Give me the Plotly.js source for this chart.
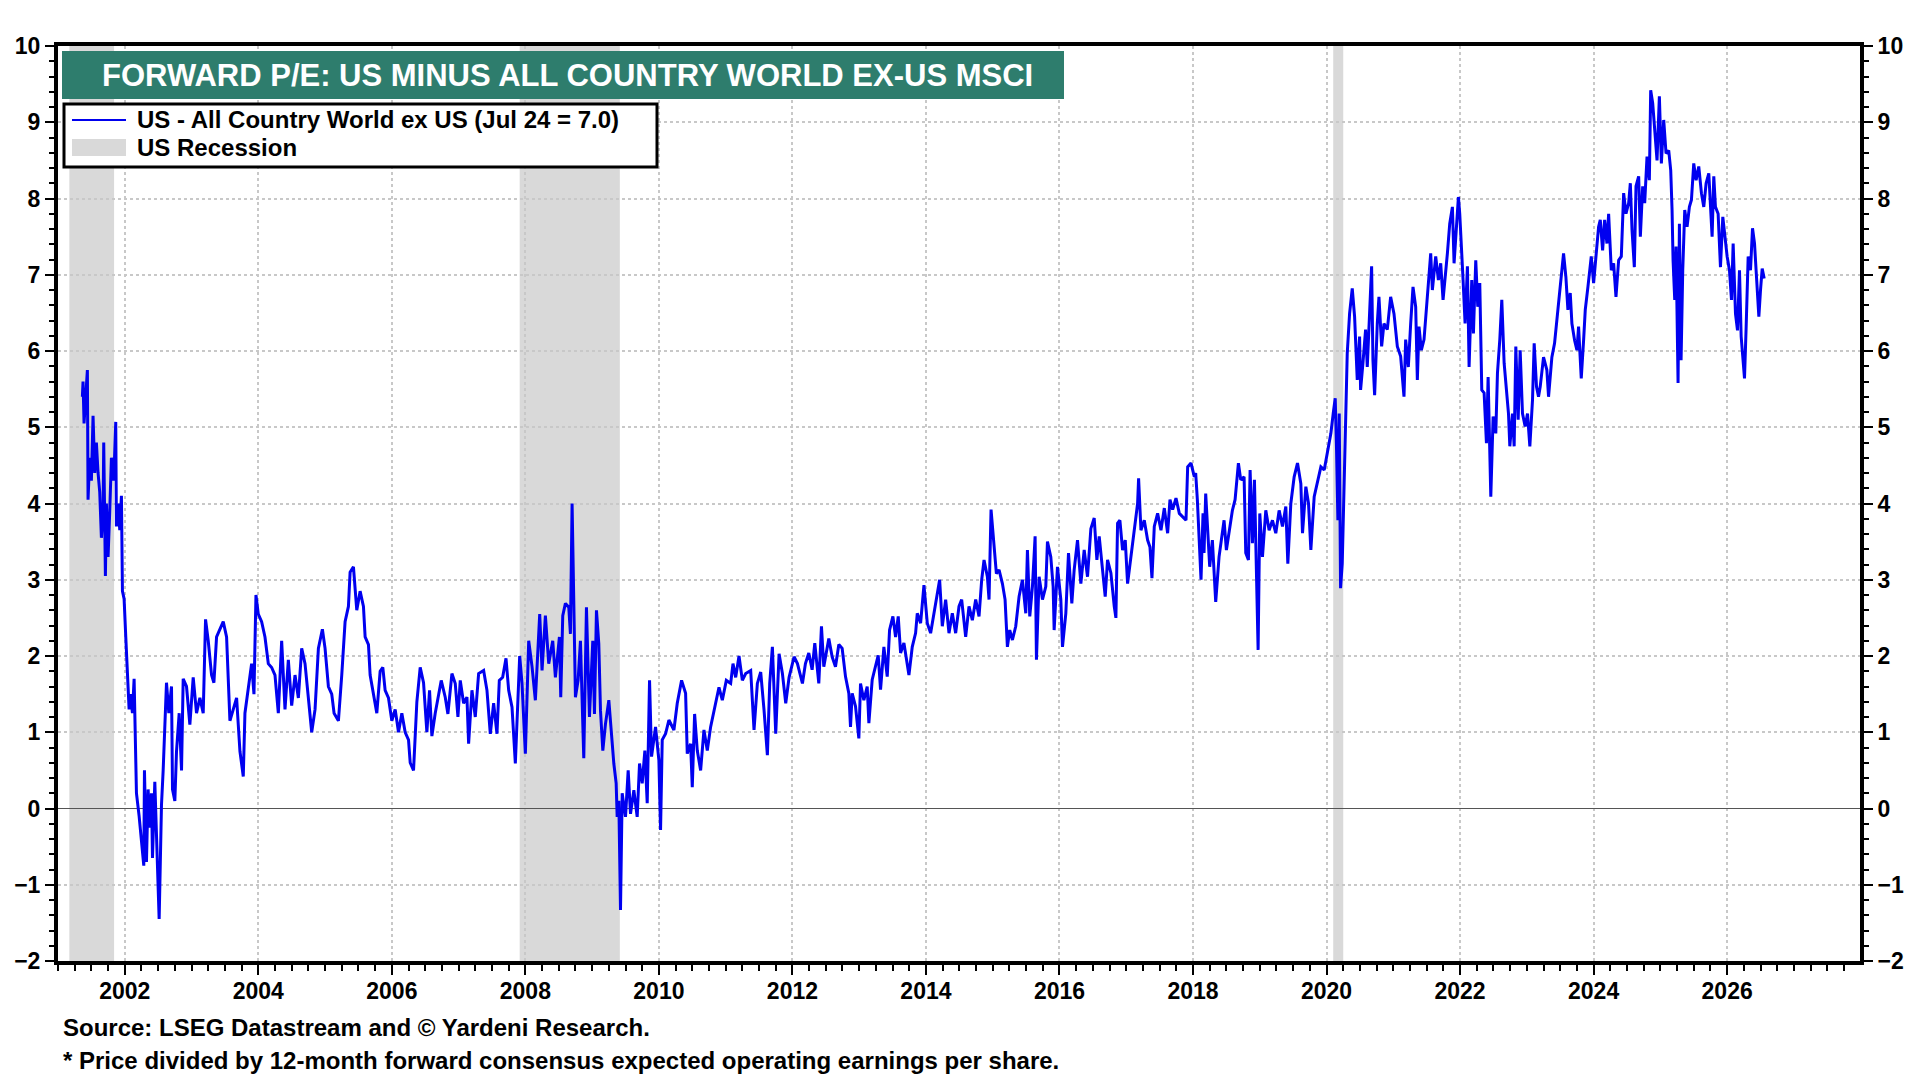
<!DOCTYPE html>
<html>
<head>
<meta charset="utf-8">
<script src="https://cdn.plot.ly/plotly-3.0.1.min.js"></script>
<style>
  html, body { margin: 0; padding: 0; background: #fff; }
  #chart { width: 1920px; height: 1080px; }
</style>
</head>
<body>
<div id="chart"></div>
<script>
// weekly-ish readings, decimal year -> spread (US minus ACWI ex-US forward P/E)
let years = [
  2001.365, 2001.375, 2001.39, 2001.415, 2001.44, 2001.45, 2001.475, 2001.5, 2001.525, 2001.55,
  2001.575, 2001.6, 2001.625, 2001.65, 2001.675, 2001.685, 2001.71, 2001.725, 2001.75, 2001.775,
  2001.8, 2001.835, 2001.865, 2001.875, 2001.9, 2001.925, 2001.95, 2001.965, 2001.99, 2002.015,
  2002.035, 2002.065, 2002.085, 2002.115, 2002.14, 2002.175, 2002.215, 2002.25, 2002.285, 2002.295,
  2002.325, 2002.35, 2002.375, 2002.4, 2002.415, 2002.45, 2002.475, 2002.5, 2002.515, 2002.535,
  2002.55, 2002.575, 2002.6, 2002.625, 2002.66, 2002.7, 2002.715, 2002.75, 2002.775, 2002.815,
  2002.85, 2002.875, 2002.925, 2002.975, 2003.025, 2003.075, 2003.125, 2003.175, 2003.21, 2003.25,
  2003.3, 2003.335, 2003.375, 2003.425, 2003.475, 2003.525, 2003.55, 2003.575, 2003.625, 2003.675,
  2003.725, 2003.775, 2003.8, 2003.85, 2003.9, 2003.935, 2003.965, 2004.0, 2004.05, 2004.1,
  2004.15, 2004.2, 2004.25, 2004.3, 2004.35, 2004.4, 2004.45, 2004.5, 2004.55, 2004.6,
  2004.65, 2004.7, 2004.75, 2004.8, 2004.85, 2004.9, 2004.96, 2005.0, 2005.05, 2005.1,
  2005.135, 2005.2, 2005.25, 2005.3, 2005.35, 2005.375, 2005.425, 2005.475, 2005.525, 2005.575,
  2005.6, 2005.65, 2005.675, 2005.725, 2005.775, 2005.825, 2005.865, 2005.9, 2005.95, 2006.0,
  2006.05, 2006.1, 2006.15, 2006.2, 2006.25, 2006.275, 2006.325, 2006.375, 2006.425, 2006.475,
  2006.525, 2006.565, 2006.6, 2006.65, 2006.74, 2006.8, 2006.84, 2006.9, 2006.95, 2006.99,
  2007.025, 2007.075, 2007.125, 2007.15, 2007.2, 2007.25, 2007.3, 2007.375, 2007.425, 2007.475,
  2007.525, 2007.575, 2007.61, 2007.66, 2007.71, 2007.75, 2007.8, 2007.85, 2007.88, 2007.915,
  2007.95, 2008.0, 2008.05, 2008.1, 2008.15, 2008.215, 2008.25, 2008.3, 2008.35, 2008.41,
  2008.45, 2008.51, 2008.53, 2008.56, 2008.6, 2008.65, 2008.675, 2008.7, 2008.725, 2008.75,
  2008.79, 2008.825, 2008.875, 2008.915, 2008.96, 2009.01, 2009.035, 2009.065, 2009.1, 2009.125,
  2009.16, 2009.2, 2009.25, 2009.29, 2009.325, 2009.36, 2009.375, 2009.4, 2009.425, 2009.45,
  2009.5, 2009.54, 2009.575, 2009.625, 2009.675, 2009.71, 2009.75, 2009.79, 2009.825, 2009.86,
  2009.89, 2009.95, 2010.0, 2010.025, 2010.05, 2010.1, 2010.15, 2010.225, 2010.275, 2010.34,
  2010.4, 2010.425, 2010.475, 2010.5, 2010.535, 2010.575, 2010.625, 2010.675, 2010.725, 2010.775,
  2010.84, 2010.9, 2010.95, 2011.01, 2011.075, 2011.11, 2011.15, 2011.2, 2011.25, 2011.3,
  2011.375, 2011.425, 2011.475, 2011.525, 2011.575, 2011.625, 2011.66, 2011.7, 2011.75, 2011.8,
  2011.85, 2011.9, 2011.95, 2012.025, 2012.075, 2012.15, 2012.195, 2012.245, 2012.295, 2012.335,
  2012.395, 2012.435, 2012.47, 2012.545, 2012.595, 2012.645, 2012.695, 2012.745, 2012.795, 2012.845,
  2012.87, 2012.895, 2012.945, 2012.995, 2013.02, 2013.07, 2013.12, 2013.145, 2013.195, 2013.245,
  2013.285, 2013.32, 2013.37, 2013.42, 2013.455, 2013.505, 2013.545, 2013.585, 2013.62, 2013.67,
  2013.705, 2013.745, 2013.795, 2013.845, 2013.87, 2013.92, 2013.97, 2014.02, 2014.07, 2014.12,
  2014.17, 2014.205, 2014.245, 2014.295, 2014.345, 2014.395, 2014.445, 2014.495, 2014.535, 2014.595,
  2014.645, 2014.695, 2014.745, 2014.795, 2014.835, 2014.87, 2014.92, 2014.945, 2014.975, 2015.02,
  2015.055, 2015.095, 2015.145, 2015.185, 2015.22, 2015.255, 2015.295, 2015.345, 2015.395, 2015.445,
  2015.495, 2015.52, 2015.555, 2015.595, 2015.635, 2015.655, 2015.695, 2015.745, 2015.795, 2015.82,
  2015.87, 2015.905, 2015.92, 2015.97, 2016.02, 2016.045, 2016.095, 2016.135, 2016.185, 2016.22,
  2016.27, 2016.32, 2016.37, 2016.42, 2016.47, 2016.52, 2016.56, 2016.595, 2016.645, 2016.685,
  2016.72, 2016.77, 2016.82, 2016.845, 2016.87, 2016.905, 2016.945, 2016.985, 2017.02, 2017.07,
  2017.12, 2017.17, 2017.185, 2017.22, 2017.27, 2017.32, 2017.355, 2017.385, 2017.42, 2017.47,
  2017.52, 2017.57, 2017.62, 2017.655, 2017.695, 2017.745, 2017.795, 2017.845, 2017.895, 2017.92,
  2017.97, 2018.02, 2018.04, 2018.065, 2018.1, 2018.12, 2018.15, 2018.165, 2018.19, 2018.215,
  2018.25, 2018.29, 2018.315, 2018.34, 2018.39, 2018.43, 2018.465, 2018.5, 2018.54, 2018.59,
  2018.63, 2018.68, 2018.715, 2018.765, 2018.79, 2018.83, 2018.855, 2018.89, 2018.92, 2018.95,
  2018.975, 2019.0, 2019.04, 2019.09, 2019.14, 2019.19, 2019.24, 2019.29, 2019.34, 2019.39,
  2019.42, 2019.465, 2019.515, 2019.565, 2019.615, 2019.64, 2019.69, 2019.73, 2019.765, 2019.815,
  2019.865, 2019.915, 2019.965, 2020.03, 2020.065, 2020.1, 2020.13, 2020.15, 2020.17, 2020.19,
  2020.21, 2020.235, 2020.26, 2020.285, 2020.31, 2020.345, 2020.385, 2020.42, 2020.46, 2020.495,
  2020.51, 2020.545, 2020.585, 2020.61, 2020.635, 2020.675, 2020.695, 2020.72, 2020.76, 2020.785,
  2020.825, 2020.86, 2020.91, 2020.96, 2021.01, 2021.06, 2021.11, 2021.16, 2021.185, 2021.225,
  2021.26, 2021.295, 2021.335, 2021.36, 2021.385, 2021.42, 2021.46, 2021.495, 2021.535, 2021.56,
  2021.585, 2021.635, 2021.675, 2021.71, 2021.745, 2021.785, 2021.81, 2021.845, 2021.885, 2021.91,
  2021.935, 2021.975, 2021.995, 2022.025, 2022.045, 2022.075, 2022.11, 2022.135, 2022.175, 2022.2,
  2022.235, 2022.265, 2022.295, 2022.325, 2022.36, 2022.395, 2022.42, 2022.46, 2022.495, 2022.535,
  2022.56, 2022.595, 2022.625, 2022.66, 2022.695, 2022.725, 2022.745, 2022.785, 2022.81, 2022.835,
  2022.87, 2022.9, 2022.935, 2022.975, 2023.01, 2023.045, 2023.085, 2023.11, 2023.145, 2023.175,
  2023.2, 2023.25, 2023.3, 2023.325, 2023.375, 2023.415, 2023.465, 2023.5, 2023.55, 2023.585,
  2023.615, 2023.65, 2023.675, 2023.715, 2023.75, 2023.775, 2023.815, 2023.85, 2023.875, 2023.915,
  2023.965, 2024.0, 2024.035, 2024.075, 2024.1, 2024.135, 2024.165, 2024.2, 2024.225, 2024.265,
  2024.3, 2024.335, 2024.375, 2024.415, 2024.45, 2024.485, 2024.525, 2024.55, 2024.575, 2024.61,
  2024.635, 2024.675, 2024.7, 2024.735, 2024.765, 2024.8, 2024.835, 2024.855, 2024.885, 2024.915,
  2024.95, 2024.985, 2025.015, 2025.05, 2025.085, 2025.125, 2025.155, 2025.175, 2025.19, 2025.215,
  2025.235, 2025.265, 2025.285, 2025.31, 2025.335, 2025.365, 2025.4, 2025.435, 2025.465, 2025.5,
  2025.535, 2025.575, 2025.615, 2025.65, 2025.685, 2025.725, 2025.75, 2025.775, 2025.8, 2025.825,
  2025.865, 2025.9, 2025.935, 2025.965, 2026.0, 2026.035, 2026.065, 2026.09, 2026.125, 2026.155,
  2026.185, 2026.21, 2026.235, 2026.26, 2026.285, 2026.315, 2026.35, 2026.38, 2026.41, 2026.435,
  2026.455, 2026.475, 2026.5, 2026.525, 2026.555
];
let spread = [
  5.4, 5.6, 5.05, 5.5, 5.75, 4.05, 4.6, 4.3, 5.15, 4.4,
  4.8, 4.4, 4.15, 3.55, 3.9, 4.8, 3.05, 4.0, 3.3, 3.9,
  4.6, 4.3, 5.07, 3.7, 4.0, 3.65, 4.1, 2.85, 2.75, 2.25,
  1.85, 1.3, 1.5, 1.25, 1.7, 0.2, -0.1, -0.45, -0.75, 0.5,
  -0.7, 0.25, -0.25, 0.2, -0.65, 0.35, -0.3, -0.95, -1.45, -0.6,
  0.05, 0.5, 1.15, 1.65, 1.25, 1.6, 0.25, 0.1, 0.75, 1.25,
  0.5, 1.7, 1.6, 1.1, 1.72, 1.25, 1.45, 1.25, 2.48, 2.2,
  1.75, 1.65, 2.25, 2.35, 2.45, 2.25, 1.55, 1.15, 1.3, 1.45,
  0.75, 0.42, 1.25, 1.6, 1.9, 1.5, 2.8, 2.55, 2.45, 2.25,
  1.9, 1.85, 1.75, 1.25, 2.2, 1.3, 1.95, 1.35, 1.75, 1.45,
  2.1, 1.9, 1.45, 1.0, 1.3, 2.1, 2.35, 2.1, 1.6, 1.5,
  1.25, 1.15, 1.75, 2.45, 2.65, 3.1, 3.17, 2.6, 2.85, 2.65,
  2.25, 2.15, 1.75, 1.5, 1.25, 1.8, 1.85, 1.55, 1.45, 1.15,
  1.3, 1.0, 1.25, 1.0, 0.9, 0.6, 0.5, 1.4, 1.85, 1.65,
  1.0, 1.55, 0.95, 1.25, 1.68, 1.46, 1.24, 1.77, 1.64, 1.2,
  1.68, 1.38, 1.46, 0.85, 1.55, 1.2, 1.77, 1.81, 1.55, 0.98,
  1.38, 0.98, 1.68, 1.72, 1.97, 1.55, 1.33, 0.59, 1.33, 2.0,
  1.64, 0.72, 2.2, 1.86, 1.42, 2.55, 1.81, 2.53, 1.9, 2.2,
  1.72, 2.25, 1.46, 2.53, 2.69, 2.64, 2.29, 4.0, 2.73, 1.46,
  1.68, 2.2, 0.66, 2.64, 1.2, 2.2, 1.24, 2.6, 2.16, 1.29,
  0.76, 1.11, 1.42, 0.9, 0.59, 0.33, -0.11, 0.1, -1.33, 0.2,
  -0.11, 0.5, -0.07, 0.24, -0.11, 0.59, 0.33, 0.76, 0.07, 1.68,
  0.68, 1.07, 0.63, -0.28, 0.9, 0.98, 1.16, 1.03, 1.38, 1.68,
  1.51, 0.72, 0.85, 0.28, 1.24, 0.76, 0.5, 1.03, 0.76, 1.07,
  1.33, 1.59, 1.42, 1.68, 1.64, 1.9, 1.72, 2.0, 1.68, 1.77,
  1.81, 1.03, 1.64, 1.79, 1.29, 0.7, 1.64, 2.12, 0.98, 2.03,
  1.77, 1.38, 1.72, 1.99, 1.9, 1.64, 1.9, 2.04, 1.82, 2.17,
  1.64, 2.39, 1.86, 2.23, 1.99, 1.86, 2.15, 2.1, 1.73, 1.51,
  1.07, 1.51, 1.34, 0.92, 1.64, 1.42, 1.6, 1.12, 1.69, 1.86,
  2.01, 1.56, 2.12, 1.73, 2.34, 2.52, 2.25, 2.52, 2.04, 2.17,
  1.99, 1.75, 2.12, 2.3, 2.56, 2.43, 2.93, 2.43, 2.3, 2.56,
  2.82, 3.0, 2.39, 2.74, 2.3, 2.56, 2.3, 2.65, 2.74, 2.25,
  2.65, 2.47, 2.74, 2.52, 3.0, 3.26, 3.04, 2.74, 3.92, 3.43,
  3.08, 3.13, 2.95, 2.74, 2.12, 2.34, 2.21, 2.39, 2.78, 3.0,
  2.56, 3.39, 2.52, 2.91, 3.57, 1.95, 3.04, 2.74, 2.91, 3.5,
  3.3, 2.91, 2.34, 3.17, 2.74, 2.12, 2.56, 3.35, 2.69, 3.13,
  3.52, 2.95, 3.39, 3.04, 3.67, 3.81, 3.26, 3.57, 3.09, 2.78,
  3.26, 3.09, 2.65, 2.5, 3.74, 3.78, 3.39, 3.52, 2.95, 3.3,
  3.61, 4.0, 4.33, 3.65, 3.78, 3.52, 3.43, 3.02, 3.7, 3.87,
  3.65, 3.94, 3.61, 4.05, 3.92, 4.07, 3.87, 3.83, 3.78, 4.48,
  4.53, 4.35, 4.4, 4.05, 3.26, 3.0, 3.87, 3.35, 4.13, 3.7,
  3.17, 3.52, 3.17, 2.71, 3.3, 3.56, 3.78, 3.39, 3.65, 3.91,
  4.05, 4.53, 4.31, 4.35, 3.35, 3.26, 4.44, 3.48, 4.31, 3.17,
  2.08, 3.87, 3.3, 3.91, 3.65, 3.78, 3.61, 3.91, 3.7, 3.96,
  3.21, 4.0, 4.35, 4.53, 4.26, 3.61, 4.22, 4.0, 3.39, 4.09,
  4.31, 4.48, 4.44, 4.79, 4.92, 5.18, 5.38, 4.7, 3.78, 5.18,
  2.89, 3.21, 4.22, 5.18, 5.97, 6.49, 6.82, 6.45, 5.62, 6.19,
  5.49, 5.84, 6.28, 5.79, 6.32, 7.11, 5.88, 5.42, 6.36, 6.71,
  6.06, 6.36, 6.28, 6.71, 6.49, 6.06, 5.93, 5.4, 6.15, 5.79,
  6.36, 6.84, 6.58, 5.62, 6.32, 6.01, 6.15, 6.58, 6.98, 7.28,
  6.8, 7.24, 6.93, 7.15, 6.67, 7.02, 7.28, 7.67, 7.89, 7.15,
  7.54, 8.02, 7.8, 7.37, 6.93, 6.36, 7.11, 5.79, 6.93, 6.23,
  7.19, 6.58, 6.89, 5.49, 5.45, 4.79, 5.66, 4.09, 5.14, 4.92,
  5.71, 6.15, 6.67, 5.84, 5.45, 5.18, 4.75, 5.18, 4.75, 6.06,
  5.1, 6.01, 5.18, 5.01, 5.18, 4.75, 5.36, 6.1, 5.53, 5.4,
  5.53, 5.92, 5.75, 5.4, 5.92, 6.1, 6.54, 6.84, 7.28, 6.97,
  6.54, 6.76, 6.36, 6.14, 6.01, 6.32, 5.64, 6.14, 6.54, 6.84,
  7.24, 6.89, 7.19, 7.63, 7.72, 7.32, 7.72, 7.41, 7.8, 7.06,
  7.15, 6.71, 7.19, 7.24, 8.07, 7.8, 7.94, 8.2, 7.59, 7.1,
  8.16, 8.29, 7.5, 8.16, 7.94, 8.55, 8.24, 9.42, 9.25, 8.9,
  8.5, 9.34, 8.46, 9.03, 8.59, 8.63, 8.37, 7.85, 7.19, 6.67,
  7.37, 5.58, 7.67, 5.88, 7.06, 7.85, 7.63, 7.89, 7.98, 8.46,
  8.24, 8.42, 8.07, 7.89, 8.2, 8.33, 7.94, 7.5, 8.29, 7.89,
  7.8, 7.1, 7.76, 7.5, 7.24, 7.06, 6.67, 7.41, 6.49, 6.27,
  7.06, 6.19, 5.88, 5.64, 6.32, 7.24, 7.06, 7.61, 7.41, 7.06,
  6.67, 6.45, 6.8, 7.08, 6.95
];

// US recessions (decimal year)
let recessionStart = [2001.17, 2007.915, 2020.1];
let recessionEnd = [2001.84, 2009.415, 2020.25];

let seriesName = "US - All Country World ex US (Jul 24 = 7.0)";
let recessionName = "US Recession";
let chartTitle = "FORWARD P/E: US MINUS ALL COUNTRY WORLD EX-US MSCI";
let sourceNote = "Source: LSEG Datastream and © Yardeni Research.";
let footNote = "* Price divided by 12-month forward consensus expected operating earnings per share.";

// pixel -> paper helpers (plot area 58..1860 x 46..961)
function px(x) { return (x - 58) / 1802; }
function py(y) { return (961 - y) / 915; }

let fontFam = "Liberation Sans, Arial, sans-serif";
let tickFont = { family: fontFam, size: 23, color: "#000", weight: "bold" };

let shapes = [];
for (let i = 0; i < recessionStart.length; i++) {
    shapes.push({
        type: "rect", xref: "x", yref: "paper",
        x0: recessionStart[i], x1: recessionEnd[i], y0: 0, y1: 1,
        fillcolor: "#d9d9d9", line: { width: 0 }, layer: "below"
    });
}
// title banner
shapes.push({
    type: "rect", xref: "paper", yref: "paper",
    x0: px(62), x1: px(1064), y0: py(99), y1: py(51),
    fillcolor: "#2e7d6d", line: { width: 0 }
});
// legend box
shapes.push({
    type: "rect", xref: "paper", yref: "paper",
    x0: px(64), x1: px(657), y0: py(167), y1: py(104),
    fillcolor: "#fff", line: { color: "#000", width: 3 }
});
shapes.push({
    type: "line", xref: "paper", yref: "paper",
    x0: px(72), x1: px(126), y0: py(120), y1: py(120),
    line: { color: "#0000ee", width: 2 }
});
shapes.push({
    type: "rect", xref: "paper", yref: "paper",
    x0: px(72), x1: px(126), y0: py(156), y1: py(139),
    fillcolor: "#d9d9d9", line: { width: 0 }
});

let annotations = [
    { text: chartTitle, xref: "paper", yref: "paper", x: px(100), y: py(75),
      xanchor: "left", yanchor: "middle", showarrow: false,
      font: { family: fontFam, size: 31, color: "#fff", weight: "bold" } },
    { text: seriesName, xref: "paper", yref: "paper", x: px(135), y: py(120),
      xanchor: "left", yanchor: "middle", showarrow: false,
      font: { family: fontFam, size: 24, color: "#000", weight: "bold" } },
    { text: recessionName, xref: "paper", yref: "paper", x: px(135), y: py(147),
      xanchor: "left", yanchor: "middle", showarrow: false,
      font: { family: fontFam, size: 24, color: "#000", weight: "bold" } },
    { text: sourceNote, xref: "paper", yref: "paper", x: px(61), y: py(1027),
      xanchor: "left", yanchor: "middle", showarrow: false,
      font: { family: fontFam, size: 24, color: "#000", weight: "bold" } },
    { text: footNote, xref: "paper", yref: "paper", x: px(61), y: py(1060),
      xanchor: "left", yanchor: "middle", showarrow: false,
      font: { family: fontFam, size: 24, color: "#000", weight: "bold" } }
];

let trace1 = {
    x: years,
    y: spread,
    type: "scatter",
    mode: "lines",
    line: { color: "#0000f0", width: 3 },
    hoverinfo: "skip",
    showlegend: false
};
// invisible trace so the right-hand axis is drawn
let trace2 = {
    x: [years[0]],
    y: [spread[0]],
    yaxis: "y2",
    type: "scatter",
    mode: "markers",
    marker: { opacity: 0 },
    hoverinfo: "skip",
    showlegend: false
};

let yCommon = {
    range: [-2, 10],
    tick0: 0, dtick: 1,
    ticks: "outside", ticklen: 9, tickwidth: 2, tickcolor: "#000",
    minor: { dtick: 0.2, ticks: "outside", ticklen: 5, tickwidth: 2, tickcolor: "#000", showgrid: false },
    showline: true, linecolor: "#000", linewidth: 4,
    tickfont: tickFont,
    fixedrange: true
};

let layout = {
    width: 1920,
    height: 1080,
    margin: { l: 58, r: 60, t: 46, b: 119 },
    paper_bgcolor: "#fff",
    plot_bgcolor: "#fff",
    showlegend: false,
    xaxis: {
        range: [2001, 2027.99],
        tick0: 2002, dtick: 2,
        ticks: "outside", ticklen: 10, tickwidth: 2, tickcolor: "#000",
        minor: { dtick: 0.25, ticks: "outside", ticklen: 6, tickwidth: 2, tickcolor: "#000", showgrid: false },
        showgrid: true, gridcolor: "#c8c8c8", gridwidth: 2, griddash: "dot",
        showline: true, linecolor: "#000", linewidth: 4, mirror: true,
        zeroline: false,
        tickfont: tickFont,
        ticklabelstandoff: -4,
        fixedrange: true
    },
    yaxis: Object.assign({}, yCommon, {
        side: "left",
        showgrid: true, gridcolor: "#c8c8c8", gridwidth: 2, griddash: "dot",
        zeroline: true, zerolinecolor: "#555", zerolinewidth: 1.5
    }),
    yaxis2: Object.assign({}, yCommon, {
        side: "right",
        overlaying: "y",
        showgrid: false,
        zeroline: false
    }),
    shapes: shapes,
    annotations: annotations
};

Plotly.newPlot("chart", [trace1, trace2], layout, { displayModeBar: false, staticPlot: true });
</script>
</body>
</html>
